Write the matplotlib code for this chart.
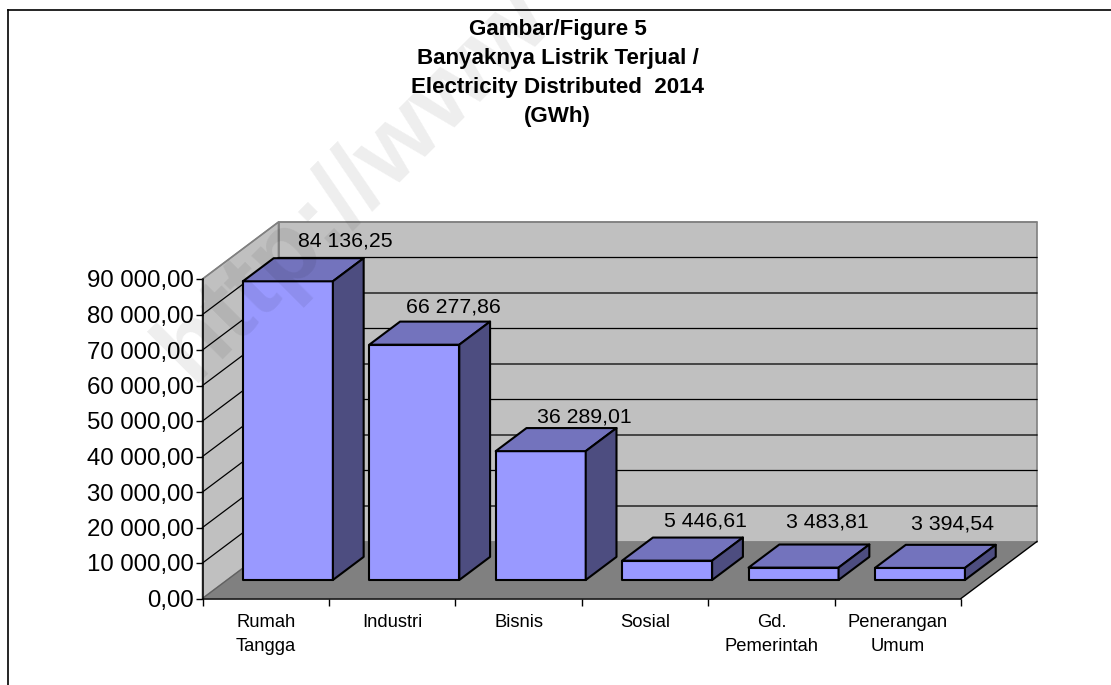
#!/usr/bin/env python3
"""Electricity distributed 2014, pseudo-3D column chart."""
import matplotlib
matplotlib.use("Agg")
import matplotlib.pyplot as plt
from matplotlib.lines import Line2D
from matplotlib.patches import Polygon

plt.rcParams["font.family"] = ["Liberation Sans", "DejaVu Sans"]

CATS = ["Rumah\nTangga", "Industri", "Bisnis", "Sosial", "Gd.\nPemerintah", "Penerangan\nUmum"]
VALUES = [84136.25, 66277.86, 36289.01, 5446.61, 3483.81, 3394.54]
VALUE_LABELS = ["84 136,25", "66 277,86", "36 289,01", "5 446,61", "3 483,81", "3 394,54"]
YTICKS = list(range(0, 90001, 10000))
YLABELS = ["0,00"] + [f"{v // 1000} 000,00" for v in YTICKS[1:]]
TITLE = "Gambar/Figure 5\nBanyaknya Listrik Terjual /\nElectricity Distributed  2014\n(GWh)"

W, H = 1111, 685
fig = plt.figure(figsize=(W / 100, H / 100), dpi=100)
ax = fig.add_axes([202.5 / W, (H - 598.5) / H, (961 - 202.5) / W, 319.5 / H])
ax.set_xlim(0, 6)
ax.set_ylim(0, 90000)

# depth of the floor, in data units
DX = 76 / (758.5 / 6)
DY = 57 / (319.5 / 90000)


def pt(x, y, d=0.0):
    return (x + DX * d, y + DY * d)


def poly(pts, fc, ec="black", lw=1.5, z=2):
    ax.add_patch(Polygon(pts, closed=True, fc=fc, ec=ec, lw=lw, zorder=z, clip_on=False,
                         joinstyle="round"))


# walls and floor
poly([pt(0, 0, 1), pt(6, 0, 1), pt(6, 90000, 1), pt(0, 90000, 1)], "#c0c0c0", "#808080", 1.2, 1)
poly([pt(0, 0), pt(0, 0, 1), pt(0, 90000, 1), pt(0, 90000)], "#c0c0c0", "#808080", 1.2, 1)
poly([pt(0, 0), pt(6, 0), pt(6, 0, 1), pt(0, 0, 1)], "#808080", "none", 0, 1.5)
for v in YTICKS[1:]:
    xs, ys = zip(pt(0, v), pt(0, v, 1), pt(6, v, 1))
    c = "#808080" if v == YTICKS[-1] else "black"
    ax.plot(xs, ys, color=c, lw=0.9, zorder=1.6, clip_on=False)
xs, ys = zip(pt(0, 0), pt(0, 0, 1))
ax.plot(xs, ys, color="#606060", lw=0.9, zorder=1.6, clip_on=False)
xs, ys = zip(pt(6, 0), pt(6, 0, 1))
ax.plot(xs, ys, color="black", lw=1.0, zorder=1.6, clip_on=False)

# columns
BAR_W = 90 / (758.5 / 6)
D0, D1 = 0.325, 0.73
LABEL_OFFSETS = [(27, 8), (8, 5), (13, 2), (8, 7), (3, 13), (2, 11)]  # px, hand placed
for i, (v, lab, off) in enumerate(zip(VALUES, VALUE_LABELS, LABEL_OFFSETS)):
    x0 = i + 0.5 - BAR_W / 2 - 0.02
    x1 = x0 + BAR_W
    z = 3 + i
    poly([pt(x0, 0, D0), pt(x1, 0, D0), pt(x1, v, D0), pt(x0, v, D0)], "#9999ff", z=z)
    poly([pt(x0, v, D0), pt(x1, v, D0), pt(x1, v, D1), pt(x0, v, D1)], "#7373bd", z=z)
    poly([pt(x1, 0, D0), pt(x1, 0, D1), pt(x1, v, D1), pt(x1, v, D0)], "#4d4d80", z=z)
    tx, ty = pt(x0 + BAR_W / 2, v, D1)
    ax.annotate(lab, (tx, ty), xytext=off, textcoords="offset pixels", ha="center",
                va="bottom", fontsize=15.3, color="black", zorder=20, annotation_clip=False)

ax.set_facecolor("none")
for s in ("top", "right"):
    ax.spines[s].set_visible(False)
for s in ("left", "bottom"):
    ax.spines[s].set_linewidth(1.1)
    ax.spines[s].set_zorder(2.5)
ax.set_yticks(YTICKS, YLABELS, fontsize=17.3)
ax.set_xticks(range(7), [""] * 7)
ax.set_xticks([i + 0.5 for i in range(6)], CATS, minor=True, fontsize=13.2, linespacing=1.55, va="top")
ax.tick_params(axis="x", which="minor", length=0, pad=11)
ax.tick_params(axis="x", which="major", length=5, width=1)
ax.tick_params(axis="y", length=5, width=1, pad=1)

fig.text(557.5 / W, 1 - 19 / H, TITLE, ha="center", va="top", fontsize=16.1, fontweight="bold",
         linespacing=1.5)

# chart frame: only the top and left edges are inside the crop
fx0, fy = 7.5 / W, 1 - 9.5 / H
fig.add_artist(Line2D([fx0, 1], [fy, fy], color="black", lw=1.2, transform=fig.transFigure))
fig.add_artist(Line2D([fx0, fx0], [fy, 0], color="black", lw=1.2, transform=fig.transFigure))

# watermark
fig.text(192 / W, 1 - 383 / H, "http://www", rotation=45, rotation_mode="anchor", ha="left",
         va="baseline", fontsize=72, fontweight="bold", color="black", alpha=0.07, zorder=30)

fig.savefig("out.png", dpi=100)
